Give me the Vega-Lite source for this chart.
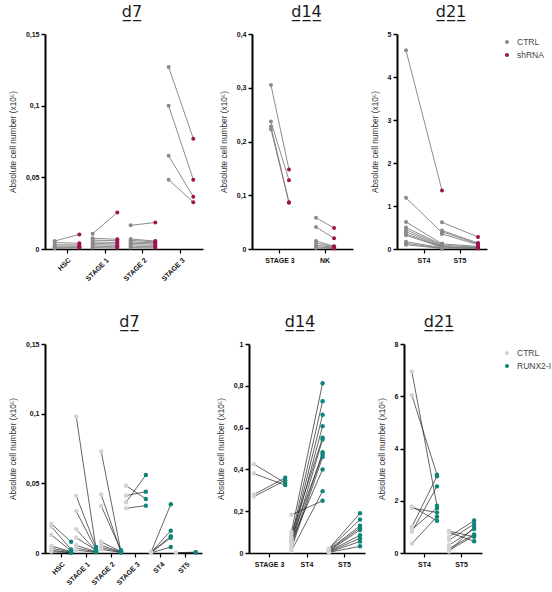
{
"$schema": "https://vega.github.io/schema/vega-lite/v6.json",
"autosize": {"type": "pad"},
"padding": {"left": 8, "top": 4, "right": 2, "bottom": 2},
"config": {
 "view": {"stroke": null},
 "axis": {"grid": false, "domainColor": "#000", "tickColor": "#000", "labelFont": "Liberation Sans", "labelFontWeight": "bold", "labelFontSize": 7, "labelColor": "#111", "titleFont": "Liberation Sans", "titleFontWeight": "normal", "titleFontSize": 8.3, "titleColor": "#333", "tickSize": 4},
 "axisY": {"domainWidth": 2, "tickWidth": 1.5, "titlePadding": 8, "labelPadding": 2},
 "axisX": {"domainWidth": 1.5, "tickWidth": 1.2, "labelPadding": 3, "title": null},
 "title": {"font": "DejaVu Sans", "fontSize": 16, "fontWeight": "normal", "color": "#1a1a1a", "offset": 10, "anchor": "middle"},
 "legend": {"title": null, "orient": "none", "padding": 0, "labelFont": "Liberation Sans", "labelFontSize": 8.5, "labelColor": "#444", "symbolType": "M-1,0L1,0M-0.45,0A0.45,0.45 0 1,0 0.45,0A0.45,0.45 0 1,0 -0.45,0Z", "symbolSize": 80, "symbolStrokeWidth": 1, "rowPadding": 3, "labelOffset": 5}
},
"datasets": {
 "t7": [
  {"cat":"HSC","grp":"CTRL","pair":1,"val":0.0056},{"cat":"HSC","grp":"shRNA","pair":1,"val":0.0102},
  {"cat":"HSC","grp":"CTRL","pair":2,"val":0.0045},{"cat":"HSC","grp":"shRNA","pair":2,"val":0.004},
  {"cat":"HSC","grp":"CTRL","pair":3,"val":0.003},{"cat":"HSC","grp":"shRNA","pair":3,"val":0.0028},
  {"cat":"HSC","grp":"CTRL","pair":4,"val":0.002},{"cat":"HSC","grp":"shRNA","pair":4,"val":0.002},
  {"cat":"HSC","grp":"CTRL","pair":5,"val":0.0012},{"cat":"HSC","grp":"shRNA","pair":5,"val":0.0012},
  {"cat":"HSC","grp":"CTRL","pair":6,"val":0.0005},{"cat":"HSC","grp":"shRNA","pair":6,"val":0.0008},
  {"cat":"STAGE 1","grp":"CTRL","pair":1,"val":0.0107},{"cat":"STAGE 1","grp":"shRNA","pair":1,"val":0.0255},
  {"cat":"STAGE 1","grp":"CTRL","pair":2,"val":0.0075},{"cat":"STAGE 1","grp":"shRNA","pair":2,"val":0.0068},
  {"cat":"STAGE 1","grp":"CTRL","pair":3,"val":0.0062},{"cat":"STAGE 1","grp":"shRNA","pair":3,"val":0.0058},
  {"cat":"STAGE 1","grp":"CTRL","pair":4,"val":0.005},{"cat":"STAGE 1","grp":"shRNA","pair":4,"val":0.0045},
  {"cat":"STAGE 1","grp":"CTRL","pair":5,"val":0.004},{"cat":"STAGE 1","grp":"shRNA","pair":5,"val":0.0035},
  {"cat":"STAGE 1","grp":"CTRL","pair":6,"val":0.003},{"cat":"STAGE 1","grp":"shRNA","pair":6,"val":0.0025},
  {"cat":"STAGE 1","grp":"CTRL","pair":7,"val":0.002},{"cat":"STAGE 1","grp":"shRNA","pair":7,"val":0.0015},
  {"cat":"STAGE 1","grp":"CTRL","pair":8,"val":0.001},{"cat":"STAGE 1","grp":"shRNA","pair":8,"val":0.0008},
  {"cat":"STAGE 2","grp":"CTRL","pair":1,"val":0.0165},{"cat":"STAGE 2","grp":"shRNA","pair":1,"val":0.0185},
  {"cat":"STAGE 2","grp":"CTRL","pair":2,"val":0.007},{"cat":"STAGE 2","grp":"shRNA","pair":2,"val":0.0055},
  {"cat":"STAGE 2","grp":"CTRL","pair":3,"val":0.006},{"cat":"STAGE 2","grp":"shRNA","pair":3,"val":0.005},
  {"cat":"STAGE 2","grp":"CTRL","pair":4,"val":0.005},{"cat":"STAGE 2","grp":"shRNA","pair":4,"val":0.0042},
  {"cat":"STAGE 2","grp":"CTRL","pair":5,"val":0.004},{"cat":"STAGE 2","grp":"shRNA","pair":5,"val":0.0035},
  {"cat":"STAGE 2","grp":"CTRL","pair":6,"val":0.003},{"cat":"STAGE 2","grp":"shRNA","pair":6,"val":0.0025},
  {"cat":"STAGE 2","grp":"CTRL","pair":7,"val":0.002},{"cat":"STAGE 2","grp":"shRNA","pair":7,"val":0.0015},
  {"cat":"STAGE 2","grp":"CTRL","pair":8,"val":0.001},{"cat":"STAGE 2","grp":"shRNA","pair":8,"val":0.0008},
  {"cat":"STAGE 3","grp":"CTRL","pair":1,"val":0.127},{"cat":"STAGE 3","grp":"shRNA","pair":1,"val":0.077},
  {"cat":"STAGE 3","grp":"CTRL","pair":2,"val":0.1},{"cat":"STAGE 3","grp":"shRNA","pair":2,"val":0.0484},
  {"cat":"STAGE 3","grp":"CTRL","pair":3,"val":0.065},{"cat":"STAGE 3","grp":"shRNA","pair":3,"val":0.0365},
  {"cat":"STAGE 3","grp":"CTRL","pair":4,"val":0.0484},{"cat":"STAGE 3","grp":"shRNA","pair":4,"val":0.0326}
 ],
 "t14": [
  {"cat":"STAGE 3","grp":"CTRL","pair":1,"val":0.305},{"cat":"STAGE 3","grp":"shRNA","pair":1,"val":0.148},
  {"cat":"STAGE 3","grp":"CTRL","pair":2,"val":0.237},{"cat":"STAGE 3","grp":"shRNA","pair":2,"val":0.128},
  {"cat":"STAGE 3","grp":"CTRL","pair":3,"val":0.228},{"cat":"STAGE 3","grp":"shRNA","pair":3,"val":0.087},
  {"cat":"STAGE 3","grp":"CTRL","pair":4,"val":0.223},{"cat":"STAGE 3","grp":"shRNA","pair":4,"val":0.086},
  {"cat":"NK","grp":"CTRL","pair":1,"val":0.058},{"cat":"NK","grp":"shRNA","pair":1,"val":0.039},
  {"cat":"NK","grp":"CTRL","pair":2,"val":0.041},{"cat":"NK","grp":"shRNA","pair":2,"val":0.02},
  {"cat":"NK","grp":"CTRL","pair":3,"val":0.015},{"cat":"NK","grp":"shRNA","pair":3,"val":0.005},
  {"cat":"NK","grp":"CTRL","pair":4,"val":0.011},{"cat":"NK","grp":"shRNA","pair":4,"val":0.004},
  {"cat":"NK","grp":"CTRL","pair":5,"val":0.007},{"cat":"NK","grp":"shRNA","pair":5,"val":0.003},
  {"cat":"NK","grp":"CTRL","pair":6,"val":0.004},{"cat":"NK","grp":"shRNA","pair":6,"val":0.002},
  {"cat":"NK","grp":"CTRL","pair":7,"val":0.002},{"cat":"NK","grp":"shRNA","pair":7,"val":0.001}
 ],
 "t21": [
  {"cat":"ST4","grp":"CTRL","pair":1,"val":4.62},{"cat":"ST4","grp":"shRNA","pair":1,"val":1.36},
  {"cat":"ST4","grp":"CTRL","pair":2,"val":1.19},{"cat":"ST4","grp":"shRNA","pair":2,"val":0.38},
  {"cat":"ST4","grp":"CTRL","pair":3,"val":0.63},{"cat":"ST4","grp":"shRNA","pair":3,"val":0.12},
  {"cat":"ST4","grp":"CTRL","pair":4,"val":0.5},{"cat":"ST4","grp":"shRNA","pair":4,"val":0.1},
  {"cat":"ST4","grp":"CTRL","pair":5,"val":0.45},{"cat":"ST4","grp":"shRNA","pair":5,"val":0.08},
  {"cat":"ST4","grp":"CTRL","pair":6,"val":0.4},{"cat":"ST4","grp":"shRNA","pair":6,"val":0.06},
  {"cat":"ST4","grp":"CTRL","pair":7,"val":0.35},{"cat":"ST4","grp":"shRNA","pair":7,"val":0.05},
  {"cat":"ST4","grp":"CTRL","pair":8,"val":0.32},{"cat":"ST4","grp":"shRNA","pair":8,"val":0.04},
  {"cat":"ST4","grp":"CTRL","pair":9,"val":0.17},{"cat":"ST4","grp":"shRNA","pair":9,"val":0.03},
  {"cat":"ST4","grp":"CTRL","pair":10,"val":0.13},{"cat":"ST4","grp":"shRNA","pair":10,"val":0.02},
  {"cat":"ST4","grp":"CTRL","pair":11,"val":0.1},{"cat":"ST4","grp":"shRNA","pair":11,"val":0.01},
  {"cat":"ST5","grp":"CTRL","pair":1,"val":0.62},{"cat":"ST5","grp":"shRNA","pair":1,"val":0.28},
  {"cat":"ST5","grp":"CTRL","pair":2,"val":0.43},{"cat":"ST5","grp":"shRNA","pair":2,"val":0.14},
  {"cat":"ST5","grp":"CTRL","pair":3,"val":0.4},{"cat":"ST5","grp":"shRNA","pair":3,"val":0.12},
  {"cat":"ST5","grp":"CTRL","pair":4,"val":0.35},{"cat":"ST5","grp":"shRNA","pair":4,"val":0.1},
  {"cat":"ST5","grp":"CTRL","pair":5,"val":0.12},{"cat":"ST5","grp":"shRNA","pair":5,"val":0.06},
  {"cat":"ST5","grp":"CTRL","pair":6,"val":0.09},{"cat":"ST5","grp":"shRNA","pair":6,"val":0.04},
  {"cat":"ST5","grp":"CTRL","pair":7,"val":0.06},{"cat":"ST5","grp":"shRNA","pair":7,"val":0.03},
  {"cat":"ST5","grp":"CTRL","pair":8,"val":0.04},{"cat":"ST5","grp":"shRNA","pair":8,"val":0.02},
  {"cat":"ST5","grp":"CTRL","pair":9,"val":0.02},{"cat":"ST5","grp":"shRNA","pair":9,"val":0.01}
 ],
 "b7": [
  {"cat":"HSC","grp":"CTRL","pair":1,"val":0.021},{"cat":"HSC","grp":"RUNX2-I","pair":1,"val":0.008},
  {"cat":"HSC","grp":"CTRL","pair":2,"val":0.019},{"cat":"HSC","grp":"RUNX2-I","pair":2,"val":0.0025},
  {"cat":"HSC","grp":"CTRL","pair":3,"val":0.013},{"cat":"HSC","grp":"RUNX2-I","pair":3,"val":0.0015},
  {"cat":"HSC","grp":"CTRL","pair":4,"val":0.005},{"cat":"HSC","grp":"RUNX2-I","pair":4,"val":0.001},
  {"cat":"HSC","grp":"CTRL","pair":5,"val":0.0035},{"cat":"HSC","grp":"RUNX2-I","pair":5,"val":0.0005},
  {"cat":"HSC","grp":"CTRL","pair":6,"val":0.002},{"cat":"HSC","grp":"RUNX2-I","pair":6,"val":0.0003},
  {"cat":"HSC","grp":"CTRL","pair":7,"val":0.001},{"cat":"HSC","grp":"RUNX2-I","pair":7,"val":0.0002},
  {"cat":"STAGE 1","grp":"CTRL","pair":1,"val":0.098},{"cat":"STAGE 1","grp":"RUNX2-I","pair":1,"val":0.003},
  {"cat":"STAGE 1","grp":"CTRL","pair":2,"val":0.041},{"cat":"STAGE 1","grp":"RUNX2-I","pair":2,"val":0.0043},
  {"cat":"STAGE 1","grp":"CTRL","pair":3,"val":0.03},{"cat":"STAGE 1","grp":"RUNX2-I","pair":3,"val":0.0024},
  {"cat":"STAGE 1","grp":"CTRL","pair":4,"val":0.017},{"cat":"STAGE 1","grp":"RUNX2-I","pair":4,"val":0.0014},
  {"cat":"STAGE 1","grp":"CTRL","pair":5,"val":0.011},{"cat":"STAGE 1","grp":"RUNX2-I","pair":5,"val":0.002},
  {"cat":"STAGE 1","grp":"CTRL","pair":6,"val":0.0055},{"cat":"STAGE 1","grp":"RUNX2-I","pair":6,"val":0.001},
  {"cat":"STAGE 1","grp":"CTRL","pair":7,"val":0.0036},{"cat":"STAGE 1","grp":"RUNX2-I","pair":7,"val":0.0007},
  {"cat":"STAGE 1","grp":"CTRL","pair":8,"val":0.002},{"cat":"STAGE 1","grp":"RUNX2-I","pair":8,"val":0.0005},
  {"cat":"STAGE 2","grp":"CTRL","pair":1,"val":0.073},{"cat":"STAGE 2","grp":"RUNX2-I","pair":1,"val":0.0012},
  {"cat":"STAGE 2","grp":"CTRL","pair":2,"val":0.042},{"cat":"STAGE 2","grp":"RUNX2-I","pair":2,"val":0.0007},
  {"cat":"STAGE 2","grp":"CTRL","pair":3,"val":0.034},{"cat":"STAGE 2","grp":"RUNX2-I","pair":3,"val":0.002},
  {"cat":"STAGE 2","grp":"CTRL","pair":4,"val":0.008},{"cat":"STAGE 2","grp":"RUNX2-I","pair":4,"val":0.001},
  {"cat":"STAGE 2","grp":"CTRL","pair":5,"val":0.0055},{"cat":"STAGE 2","grp":"RUNX2-I","pair":5,"val":0.0008},
  {"cat":"STAGE 2","grp":"CTRL","pair":6,"val":0.004},{"cat":"STAGE 2","grp":"RUNX2-I","pair":6,"val":0.0005},
  {"cat":"STAGE 2","grp":"CTRL","pair":7,"val":0.0026},{"cat":"STAGE 2","grp":"RUNX2-I","pair":7,"val":0.0004},
  {"cat":"STAGE 3","grp":"CTRL","pair":1,"val":0.0483},{"cat":"STAGE 3","grp":"RUNX2-I","pair":1,"val":0.0388},
  {"cat":"STAGE 3","grp":"CTRL","pair":2,"val":0.0412},{"cat":"STAGE 3","grp":"RUNX2-I","pair":2,"val":0.044},
  {"cat":"STAGE 3","grp":"CTRL","pair":3,"val":0.0364},{"cat":"STAGE 3","grp":"RUNX2-I","pair":3,"val":0.056},
  {"cat":"STAGE 3","grp":"CTRL","pair":4,"val":0.0321},{"cat":"STAGE 3","grp":"RUNX2-I","pair":4,"val":0.034},
  {"cat":"ST4","grp":"CTRL","pair":1,"val":0.0005},{"cat":"ST4","grp":"RUNX2-I","pair":1,"val":0.035},
  {"cat":"ST4","grp":"CTRL","pair":2,"val":0.0004},{"cat":"ST4","grp":"RUNX2-I","pair":2,"val":0.016},
  {"cat":"ST4","grp":"CTRL","pair":3,"val":0.0003},{"cat":"ST4","grp":"RUNX2-I","pair":3,"val":0.012},
  {"cat":"ST4","grp":"CTRL","pair":4,"val":0.0002},{"cat":"ST4","grp":"RUNX2-I","pair":4,"val":0.011},
  {"cat":"ST4","grp":"CTRL","pair":5,"val":0.0001},{"cat":"ST4","grp":"RUNX2-I","pair":5,"val":0.0043},
  {"cat":"ST5","grp":"CTRL","pair":1,"val":0.0002},{"cat":"ST5","grp":"RUNX2-I","pair":1,"val":0.0006},
  {"cat":"ST5","grp":"CTRL","pair":2,"val":0.0001},{"cat":"ST5","grp":"RUNX2-I","pair":2,"val":0.0003}
 ],
 "b14": [
  {"cat":"STAGE 3","grp":"CTRL","pair":1,"val":0.425},{"cat":"STAGE 3","grp":"RUNX2-I","pair":1,"val":0.335},
  {"cat":"STAGE 3","grp":"CTRL","pair":2,"val":0.38},{"cat":"STAGE 3","grp":"RUNX2-I","pair":2,"val":0.325},
  {"cat":"STAGE 3","grp":"CTRL","pair":3,"val":0.28},{"cat":"STAGE 3","grp":"RUNX2-I","pair":3,"val":0.36},
  {"cat":"STAGE 3","grp":"CTRL","pair":4,"val":0.27},{"cat":"STAGE 3","grp":"RUNX2-I","pair":4,"val":0.348},
  {"cat":"ST4","grp":"CTRL","pair":1,"val":0.1},{"cat":"ST4","grp":"RUNX2-I","pair":1,"val":0.812},
  {"cat":"ST4","grp":"CTRL","pair":2,"val":0.075},{"cat":"ST4","grp":"RUNX2-I","pair":2,"val":0.726},
  {"cat":"ST4","grp":"CTRL","pair":3,"val":0.06},{"cat":"ST4","grp":"RUNX2-I","pair":3,"val":0.661},
  {"cat":"ST4","grp":"CTRL","pair":4,"val":0.05},{"cat":"ST4","grp":"RUNX2-I","pair":4,"val":0.607},
  {"cat":"ST4","grp":"CTRL","pair":5,"val":0.09},{"cat":"ST4","grp":"RUNX2-I","pair":5,"val":0.551},
  {"cat":"ST4","grp":"CTRL","pair":6,"val":0.04},{"cat":"ST4","grp":"RUNX2-I","pair":6,"val":0.543},
  {"cat":"ST4","grp":"CTRL","pair":7,"val":0.03},{"cat":"ST4","grp":"RUNX2-I","pair":7,"val":0.482},
  {"cat":"ST4","grp":"CTRL","pair":8,"val":0.07},{"cat":"ST4","grp":"RUNX2-I","pair":8,"val":0.471},
  {"cat":"ST4","grp":"CTRL","pair":9,"val":0.02},{"cat":"ST4","grp":"RUNX2-I","pair":9,"val":0.459},
  {"cat":"ST4","grp":"CTRL","pair":10,"val":0.055},{"cat":"ST4","grp":"RUNX2-I","pair":10,"val":0.4},
  {"cat":"ST4","grp":"CTRL","pair":11,"val":0.01},{"cat":"ST4","grp":"RUNX2-I","pair":11,"val":0.296},
  {"cat":"ST4","grp":"CTRL","pair":12,"val":0.183},{"cat":"ST4","grp":"RUNX2-I","pair":12,"val":0.25},
  {"cat":"ST5","grp":"CTRL","pair":1,"val":0.02},{"cat":"ST5","grp":"RUNX2-I","pair":1,"val":0.19},
  {"cat":"ST5","grp":"CTRL","pair":2,"val":0.018},{"cat":"ST5","grp":"RUNX2-I","pair":2,"val":0.16},
  {"cat":"ST5","grp":"CTRL","pair":3,"val":0.015},{"cat":"ST5","grp":"RUNX2-I","pair":3,"val":0.13},
  {"cat":"ST5","grp":"CTRL","pair":4,"val":0.012},{"cat":"ST5","grp":"RUNX2-I","pair":4,"val":0.12},
  {"cat":"ST5","grp":"CTRL","pair":5,"val":0.01},{"cat":"ST5","grp":"RUNX2-I","pair":5,"val":0.11},
  {"cat":"ST5","grp":"CTRL","pair":6,"val":0.008},{"cat":"ST5","grp":"RUNX2-I","pair":6,"val":0.085},
  {"cat":"ST5","grp":"CTRL","pair":7,"val":0.006},{"cat":"ST5","grp":"RUNX2-I","pair":7,"val":0.07},
  {"cat":"ST5","grp":"CTRL","pair":8,"val":0.004},{"cat":"ST5","grp":"RUNX2-I","pair":8,"val":0.055},
  {"cat":"ST5","grp":"CTRL","pair":9,"val":0.003},{"cat":"ST5","grp":"RUNX2-I","pair":9,"val":0.032}
 ],
 "b21": [
  {"cat":"ST4","grp":"CTRL","pair":1,"val":6.94},{"cat":"ST4","grp":"RUNX2-I","pair":1,"val":1.81},
  {"cat":"ST4","grp":"CTRL","pair":2,"val":6.04},{"cat":"ST4","grp":"RUNX2-I","pair":2,"val":3.0},
  {"cat":"ST4","grp":"CTRL","pair":3,"val":1.78},{"cat":"ST4","grp":"RUNX2-I","pair":3,"val":1.23},
  {"cat":"ST4","grp":"CTRL","pair":4,"val":1.72},{"cat":"ST4","grp":"RUNX2-I","pair":4,"val":1.55},
  {"cat":"ST4","grp":"CTRL","pair":5,"val":1.0},{"cat":"ST4","grp":"RUNX2-I","pair":5,"val":2.94},
  {"cat":"ST4","grp":"CTRL","pair":6,"val":0.81},{"cat":"ST4","grp":"RUNX2-I","pair":6,"val":2.55},
  {"cat":"ST4","grp":"CTRL","pair":7,"val":0.36},{"cat":"ST4","grp":"RUNX2-I","pair":7,"val":1.39},
  {"cat":"ST4","grp":"CTRL","pair":8,"val":0.9},{"cat":"ST4","grp":"RUNX2-I","pair":8,"val":1.72},
  {"cat":"ST5","grp":"CTRL","pair":1,"val":0.84},{"cat":"ST5","grp":"RUNX2-I","pair":1,"val":0.62},
  {"cat":"ST5","grp":"CTRL","pair":2,"val":0.79},{"cat":"ST5","grp":"RUNX2-I","pair":2,"val":0.45},
  {"cat":"ST5","grp":"CTRL","pair":3,"val":0.62},{"cat":"ST5","grp":"RUNX2-I","pair":3,"val":1.24},
  {"cat":"ST5","grp":"CTRL","pair":4,"val":0.49},{"cat":"ST5","grp":"RUNX2-I","pair":4,"val":1.11},
  {"cat":"ST5","grp":"CTRL","pair":5,"val":0.3},{"cat":"ST5","grp":"RUNX2-I","pair":5,"val":0.92},
  {"cat":"ST5","grp":"CTRL","pair":6,"val":0.17},{"cat":"ST5","grp":"RUNX2-I","pair":6,"val":0.71},
  {"cat":"ST5","grp":"CTRL","pair":7,"val":0.06},{"cat":"ST5","grp":"RUNX2-I","pair":7,"val":1.0},
  {"cat":"ST5","grp":"CTRL","pair":8,"val":0.1},{"cat":"ST5","grp":"RUNX2-I","pair":8,"val":0.66}
 ]
},
"vconcat": [
 {
  "hconcat": [
   {
    "width": 158, "height": 215,
    "title": {"text": "d\u03327\u0332", "dx": 8},
    "data": {"name": "t7"},
    "encoding": {
     "x": {"field": "cat", "type": "nominal", "scale": {"domain": ["HSC","STAGE 1","STAGE 2","STAGE 3"], "paddingInner": 0, "paddingOuter": 0.08}, "axis": {"labelAngle": -45}},
     "xOffset": {"field": "grp", "type": "nominal", "scale": {"domain": ["CTRL","shRNA"], "paddingInner": 0, "paddingOuter": 0.27}},
     "y": {"field": "val", "type": "quantitative", "scale": {"domain": [0, 0.15], "nice": false}, "axis": {"values": [0, 0.05, 0.1, 0.15], "labelExpr": "replace(toString(datum.value), '.', ',')", "title": "Absolute cell number (x10\u2075)"}}
    },
    "layer": [
     {"mark": {"type": "line", "color": "#707070", "strokeWidth": 0.8}, "encoding": {"detail": [{"field": "cat"}, {"field": "pair"}]}},
     {"mark": {"type": "point", "filled": true, "size": 16, "opacity": 1}, "encoding": {"color": {"field": "grp", "type": "nominal", "scale": {"domain": ["CTRL","shRNA"], "range": ["#8a8a8a","#9c1452"]}, "legend": null}}}
    ]
   },
   {
    "hconcat": [
     {
      "width": 101, "height": 215,
      "title": {"text": "d\u03321\u03324\u0332", "dx": 4},
      "data": {"name": "t14"},
      "encoding": {
       "x": {"field": "cat", "type": "nominal", "scale": {"domain": ["STAGE 3","NK"], "paddingInner": 0, "paddingOuter": 0.12}, "axis": {"labelAngle": 0}},
       "xOffset": {"field": "grp", "type": "nominal", "scale": {"domain": ["CTRL","shRNA"], "paddingInner": 0, "paddingOuter": 0.75}},
       "y": {"field": "val", "type": "quantitative", "scale": {"domain": [0, 0.4], "nice": false}, "axis": {"values": [0, 0.1, 0.2, 0.3, 0.4], "labelExpr": "replace(toString(datum.value), '.', ',')", "title": "Absolute cell number (x10\u2075)"}}
      },
      "layer": [
       {"mark": {"type": "line", "color": "#707070", "strokeWidth": 0.8}, "encoding": {"detail": [{"field": "cat"}, {"field": "pair"}]}},
       {"mark": {"type": "point", "filled": true, "size": 16, "opacity": 1}, "encoding": {"color": {"field": "grp", "type": "nominal", "scale": {"domain": ["CTRL","shRNA"], "range": ["#8a8a8a","#9c1452"]}, "legend": null}}}
      ]
     },
     {
      "width": 90, "height": 215,
      "title": {"text": "d\u03322\u03321\u0332", "dx": 9},
      "data": {"name": "t21"},
      "encoding": {
       "x": {"field": "cat", "type": "nominal", "scale": {"domain": ["ST4","ST5"], "paddingInner": 0, "paddingOuter": 0.25}, "axis": {"labelAngle": 0}},
       "xOffset": {"field": "grp", "type": "nominal", "scale": {"domain": ["CTRL","shRNA"], "paddingInner": 0, "paddingOuter": 0}},
       "y": {"field": "val", "type": "quantitative", "scale": {"domain": [0, 5], "nice": false}, "axis": {"values": [0, 1, 2, 3, 4, 5], "title": "Absolute cell number (x10\u2075)"}}
      },
      "layer": [
       {"mark": {"type": "line", "color": "#707070", "strokeWidth": 0.8}, "encoding": {"detail": [{"field": "cat"}, {"field": "pair"}]}},
       {"mark": {"type": "point", "filled": true, "size": 16, "opacity": 1}, "encoding": {"color": {"field": "grp", "type": "nominal", "scale": {"domain": ["CTRL","shRNA"], "range": ["#8a8a8a","#9c1452"]}, "legend": {"legendX": 105, "legendY": 3, "encode": {"symbols": {"update": {"stroke": {"signal": "datum.value == 'CTRL' ? '#8a8a8a' : '#9c1452'"}, "strokeWidth": {"value": 1}}}}}}}}
      ]
     }
    ],
    "spacing": 44, "bounds": "flush",
    "resolve": {"scale": {"color": "independent", "x": "independent", "y": "independent", "xOffset": "independent"}, "legend": {"color": "independent"}}
   }
  ],
  "spacing": 49, "bounds": "flush",
  "resolve": {"scale": {"color": "independent", "x": "independent", "y": "independent", "xOffset": "independent"}, "legend": {"color": "independent"}}
 },
 {
  "hconcat": [
   {
    "width": 157, "height": 209,
    "title": {"text": "d\u03327\u0332", "dx": 6},
    "data": {"name": "b7"},
    "encoding": {
     "x": {"field": "cat", "type": "nominal", "scale": {"domain": ["HSC","STAGE 1","STAGE 2","STAGE 3","ST4","ST5"], "paddingInner": 0, "paddingOuter": 0.15}, "axis": {"labelAngle": -45}},
     "xOffset": {"field": "grp", "type": "nominal", "scale": {"domain": ["CTRL","RUNX2-I"], "paddingInner": 0, "paddingOuter": 0.13}},
     "y": {"field": "val", "type": "quantitative", "scale": {"domain": [0, 0.15], "nice": false}, "axis": {"values": [0, 0.05, 0.1, 0.15], "labelExpr": "replace(toString(datum.value), '.', ',')", "title": "Absolute cell number (x10\u2075)"}}
    },
    "layer": [
     {"mark": {"type": "line", "color": "#222", "strokeWidth": 0.7}, "encoding": {"detail": [{"field": "cat"}, {"field": "pair"}]}},
     {"mark": {"type": "point", "filled": true, "size": 20, "opacity": 1}, "encoding": {"color": {"field": "grp", "type": "nominal", "scale": {"domain": ["CTRL","RUNX2-I"], "range": ["#d2d2d2","#0f857a"]}, "legend": null}}}
    ]
   },
   {
    "hconcat": [
     {
      "width": 116, "height": 209,
      "title": {"text": "d\u03321\u03324\u0332", "dx": -7},
      "data": {"name": "b14"},
      "encoding": {
       "x": {"field": "cat", "type": "nominal", "scale": {"domain": ["STAGE 3","ST4","ST5"], "paddingInner": 0, "paddingOuter": 0.05}, "axis": {"labelAngle": 0}},
       "xOffset": {"field": "grp", "type": "nominal", "scale": {"domain": ["CTRL","RUNX2-I"], "paddingInner": 0, "paddingOuter": 0.1}},
       "y": {"field": "val", "type": "quantitative", "scale": {"domain": [0, 1], "nice": false}, "axis": {"values": [0, 0.2, 0.4, 0.6, 0.8, 1], "labelExpr": "replace(toString(datum.value), '.', ',')", "title": "Absolute cell number (x10\u2075)"}}
      },
      "layer": [
       {"mark": {"type": "line", "color": "#222", "strokeWidth": 0.7}, "encoding": {"detail": [{"field": "cat"}, {"field": "pair"}]}},
       {"mark": {"type": "point", "filled": true, "size": 20, "opacity": 1}, "encoding": {"color": {"field": "grp", "type": "nominal", "scale": {"domain": ["CTRL","RUNX2-I"], "range": ["#d2d2d2","#0f857a"]}, "legend": null}}}
      ]
     },
     {
      "width": 78, "height": 209,
      "title": {"text": "d\u03322\u03321\u0332", "dx": -4},
      "data": {"name": "b21"},
      "encoding": {
       "x": {"field": "cat", "type": "nominal", "scale": {"domain": ["ST4","ST5"], "paddingInner": 0, "paddingOuter": 0.05}, "axis": {"labelAngle": 0}},
       "xOffset": {"field": "grp", "type": "nominal", "scale": {"domain": ["CTRL","RUNX2-I"], "paddingInner": 0, "paddingOuter": 0.24}},
       "y": {"field": "val", "type": "quantitative", "scale": {"domain": [0, 8], "nice": false}, "axis": {"values": [0, 2, 4, 6, 8], "title": "Absolute cell number (x10\u2075)"}}
      },
      "layer": [
       {"mark": {"type": "line", "color": "#222", "strokeWidth": 0.7}, "encoding": {"detail": [{"field": "cat"}, {"field": "pair"}]}},
       {"mark": {"type": "point", "filled": true, "size": 20, "opacity": 1}, "encoding": {"color": {"field": "grp", "type": "nominal", "scale": {"domain": ["CTRL","RUNX2-I"], "range": ["#d2d2d2","#0f857a"]}, "legend": {"legendX": 98, "legendY": 4, "encode": {"symbols": {"update": {"stroke": {"signal": "datum.value == 'CTRL' ? '#d2d2d2' : '#0f857a'"}, "strokeWidth": {"value": 1}}}}}}}}
      ]
     }
    ],
    "spacing": 39, "bounds": "flush",
    "resolve": {"scale": {"color": "independent", "x": "independent", "y": "independent", "xOffset": "independent"}, "legend": {"color": "independent"}}
   }
  ],
  "spacing": 47, "bounds": "flush",
  "resolve": {"scale": {"color": "independent", "x": "independent", "y": "independent", "xOffset": "independent"}, "legend": {"color": "independent"}}
 }
],
"spacing": 32,
"resolve": {"scale": {"color": "independent", "x": "independent", "y": "independent", "xOffset": "independent"}, "legend": {"color": "independent"}}
}
